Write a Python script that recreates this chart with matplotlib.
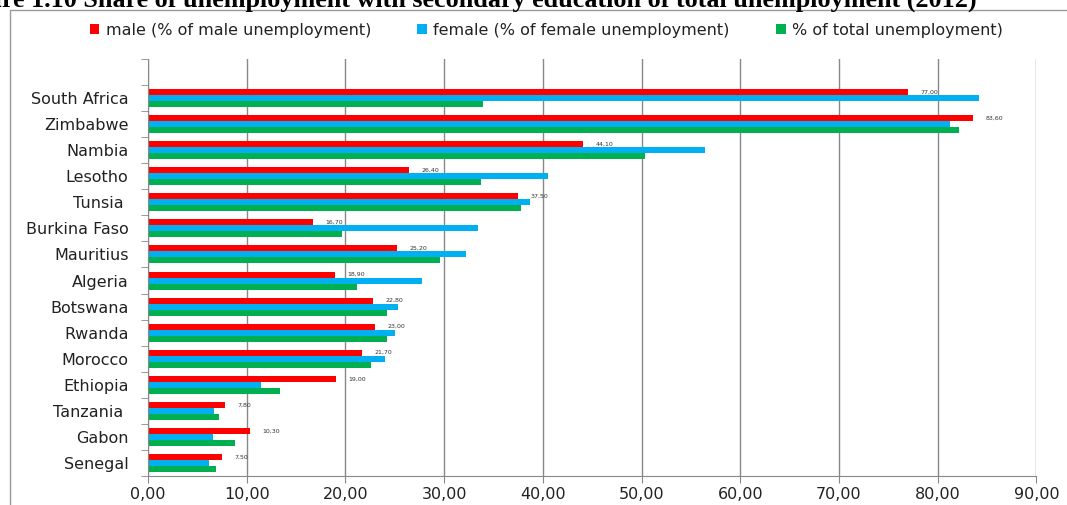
import numpy as np
import matplotlib
matplotlib.use("Agg")
import matplotlib.pyplot as plt
from matplotlib.patches import Rectangle
from matplotlib.ticker import FuncFormatter, FixedLocator

# data, top to bottom as in the chart
countries = ['South Africa', 'Zimbabwe', 'Nambia', 'Lesotho', 'Tunsia ', 'Burkina Faso',
             'Mauritius', 'Algeria', 'Botswana', 'Rwanda', 'Morocco', 'Ethiopia',
             'Tanzania ', 'Gabon', 'Senegal']
male = [77.0, 83.6, 44.1, 26.4, 37.5, 16.7, 25.2, 18.9, 22.8, 23.0, 21.7, 19.0, 7.8, 10.3, 7.5]
female = [84.2, 81.2, 56.4, 40.5, 38.7, 33.4, 32.2, 27.8, 25.3, 25.0, 24.0, 11.4, 6.7, 6.6, 6.2]
total = [33.9, 82.2, 50.3, 33.7, 37.8, 19.7, 29.6, 21.2, 24.2, 24.2, 22.6, 13.4, 7.2, 8.8, 6.9]

fig = plt.figure(figsize=(10.67, 5.05), dpi=100)
ax = fig.add_axes([0.1387, 0.0574, 0.9714 - 0.1387, 0.8832 - 0.0574])

n = len(countries)
y = np.arange(n)
h = 0.23

ax.barh(y - h, male, height=h, color='#FF0000', label='male (% of male unemployment)')
ax.barh(y, female, height=h, color='#00B0F0', label='female (% of female unemployment)')
ax.barh(y + h, total, height=h, color='#00B050', label='% of total unemployment)')

for i, v in enumerate(male):
    ax.annotate(f'{v:.2f}'.replace('.', ','), xy=(v, i - h), xytext=(9, 0),
                textcoords='offset points', va='center', ha='left',
                fontsize=4.5, color='#333333')

ax.set_xlim(0, 90)
ax.set_ylim(n - 0.5, -1.5)
ax.set_xticks(np.arange(0, 91, 10))
ax.xaxis.set_major_formatter(FuncFormatter(lambda v, p: f'{v:.2f}'.replace('.', ',')))
ax.set_yticks(y)
ax.set_yticklabels(countries)
ax.yaxis.set_minor_locator(FixedLocator(np.arange(-1.5, n, 1.0)))
ax.tick_params(axis='y', which='major', length=0, pad=14, labelsize=11.5, labelcolor='#222222')
ax.tick_params(axis='y', which='minor', length=5, color='#888888')
ax.tick_params(axis='x', length=5, color='#888888', labelsize=11.5, labelcolor='#222222', pad=3)

ax.grid(axis='x', color='#888888', linewidth=1)
ax.set_axisbelow(True)
for s in ['top', 'right']:
    ax.spines[s].set_visible(False)
for s in ['left', 'bottom']:
    ax.spines[s].set_color('#888888')

fig.legend(loc='center', bbox_to_anchor=(0.512, 1 - 30 / 505), ncol=3, frameon=False,
           fontsize=11.5, handlelength=0.6, handleheight=0.6, handletextpad=0.4,
           columnspacing=2.9, labelcolor='#222222')

fig.patches.append(Rectangle((10 / 1067, -0.02), 1.05, 1 - 9.5 / 505 + 0.02,
                             transform=fig.transFigure, fill=False,
                             edgecolor='#999999', linewidth=1))

# title is cropped at the top/left edge in the source image
fig.text(977 / 1067, 1 - 6.5 / 505,
         'Figure 1.10 Share of unemployment with secondary education of total unemployment (2012)',
         ha='right', va='baseline', fontsize=18.8, fontweight='bold',
         family='Liberation Serif', color='black')

fig.savefig('out.png', dpi=100)
